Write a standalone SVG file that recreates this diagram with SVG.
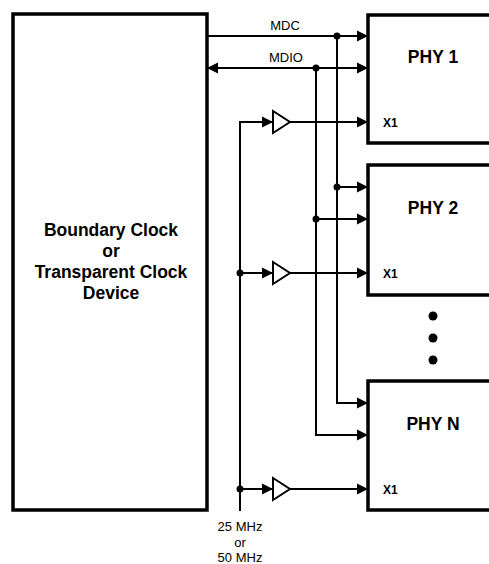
<svg xmlns="http://www.w3.org/2000/svg" width="489" height="564" viewBox="0 0 489 564">
<style>
.box{fill:#fff;stroke:#000;stroke-width:3.5}
.ln{fill:none;stroke:#000;stroke-width:2}
.buf{fill:#fff;stroke:#000;stroke-width:2}
.big{font-family:"Liberation Sans",Arial,sans-serif;font-weight:bold;font-size:17.5px;text-anchor:middle;fill:#000}
.x1{font-family:"Liberation Sans",Arial,sans-serif;font-weight:bold;font-size:12px;fill:#000}
.sm{font-family:"Liberation Sans",Arial,sans-serif;font-size:13px;text-anchor:middle;fill:#000}
.dot{fill:#000}
</style>
<defs>
<marker id="ah" markerUnits="userSpaceOnUse" markerWidth="12" markerHeight="12" viewBox="0 0 12 12" refX="11" refY="6" orient="auto-start-reverse">
<path d="M0,0.5 L11,6 L0,11.5 Z" fill="#000"/>
</marker>
</defs>
<rect width="489" height="564" fill="#fff"/>
<g id="device">
<rect class="box" x="13" y="14" width="194" height="496"/>
<text class="big" x="111" y="236">Boundary Clock</text>
<text class="big" x="111" y="257">or</text>
<text class="big" x="111" y="278">Transparent Clock</text>
<text class="big" x="111" y="299">Device</text>
</g>
<g id="phy1">
<rect class="box" x="368" y="15" width="140" height="128"/>
<text class="big" x="433" y="63">PHY 1</text>
<text class="x1" x="383" y="127">X1</text>
</g>
<g id="phy2">
<rect class="box" x="368" y="165" width="140" height="130"/>
<text class="big" x="433" y="214">PHY 2</text>
<text class="x1" x="383" y="278">X1</text>
</g>
<g id="phyn">
<rect class="box" x="368" y="381" width="140" height="129"/>
<text class="big" x="433" y="430">PHY N</text>
<text class="x1" x="383" y="494">X1</text>
</g>
<g id="ellipsis">
<circle class="dot" cx="433" cy="316" r="4.5"/>
<circle class="dot" cx="433" cy="338" r="4.5"/>
<circle class="dot" cx="433" cy="360" r="4.5"/>
</g>
<g id="buffers">
<polygon class="buf" points="273,111 273,133 290,122"/>
<polygon class="buf" points="273,262 273,284 290,273"/>
<polygon class="buf" points="273,478 273,500 290,489"/>
</g>
<g id="connectors">
<line class="ln" x1="207" y1="36" x2="368" y2="36" marker-end="url(#ah)"/>
<line class="ln" x1="207" y1="68" x2="368" y2="68" marker-start="url(#ah)" marker-end="url(#ah)"/>
<polyline class="ln" points="337,36 337,403 368,403" marker-end="url(#ah)"/>
<polyline class="ln" points="316,68 316,435 368,435" marker-end="url(#ah)"/>
<line class="ln" x1="337" y1="187" x2="368" y2="187" marker-end="url(#ah)"/>
<line class="ln" x1="316" y1="219" x2="368" y2="219" marker-end="url(#ah)"/>
<polyline class="ln" points="240,511 240,122 273,122" marker-end="url(#ah)"/>
<line class="ln" x1="240" y1="273" x2="273" y2="273" marker-end="url(#ah)"/>
<line class="ln" x1="240" y1="489" x2="273" y2="489" marker-end="url(#ah)"/>
<line class="ln" x1="290" y1="122" x2="368" y2="122" marker-end="url(#ah)"/>
<line class="ln" x1="290" y1="273" x2="368" y2="273" marker-end="url(#ah)"/>
<line class="ln" x1="290" y1="489" x2="368" y2="489" marker-end="url(#ah)"/>
<circle class="dot" cx="337" cy="36" r="3.5"/>
<circle class="dot" cx="316" cy="68" r="3.5"/>
<circle class="dot" cx="337" cy="187" r="3.5"/>
<circle class="dot" cx="316" cy="219" r="3.5"/>
<circle class="dot" cx="240" cy="273" r="3.5"/>
<circle class="dot" cx="240" cy="489" r="3.5"/>
<text class="sm" x="285" y="30">MDC</text>
<text class="sm" x="286" y="62">MDIO</text>
<text class="sm" x="240" y="531">25 MHz</text>
<text class="sm" x="240" y="547">or</text>
<text class="sm" x="240" y="562">50 MHz</text>
</g>
</svg>
